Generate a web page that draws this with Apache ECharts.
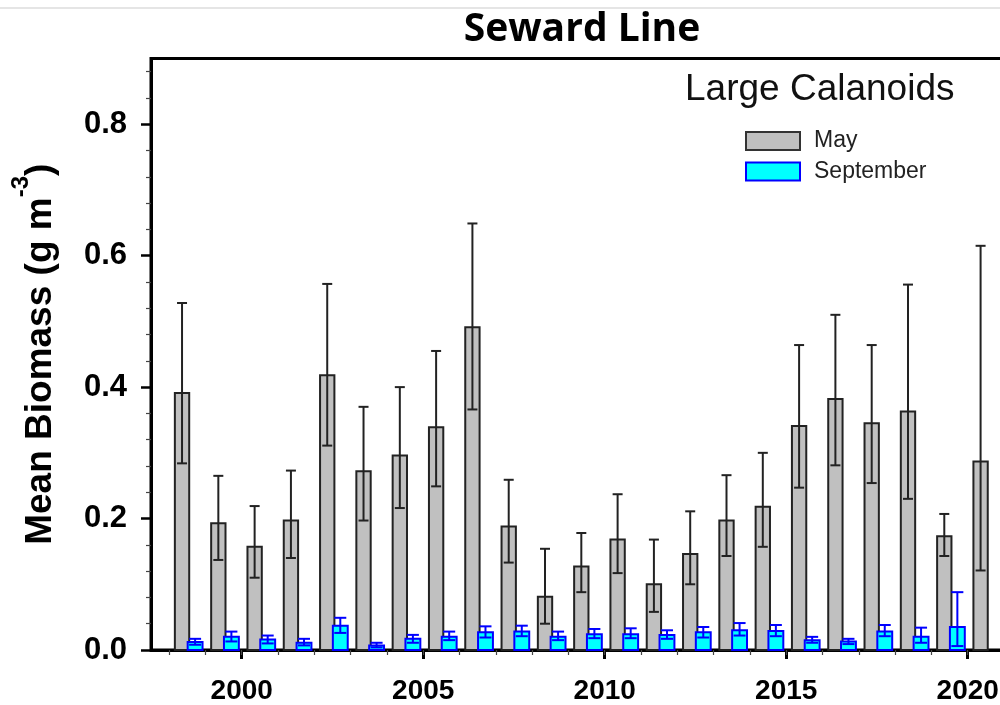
<!DOCTYPE html>
<html>
<head>
<meta charset="utf-8">
<script src="https://cdn.jsdelivr.net/npm/echarts@6/dist/echarts.min.js"></script>
<style>
html,body{margin:0;padding:0;overflow:hidden;background:#fff;}
#chart{width:1010px;height:705px;}
</style>
</head>
<body>
<div id="chart"></div>
<script>
// ---- data ----
const years = [1998,1999,2000,2001,2002,2003,2004,2005,2006,2007,2008,2009,2010,2011,2012,2013,2014,2015,2016,2017,2018,2019,2020];
// cruise timing within the year (fraction of a year)
const mayTiming = 0.355;
const sepTiming = 0.715;

const mayMean  = [0.391,0.193,0.157,0.197,0.418,0.272,0.296,0.339,0.491,0.188,0.081,0.127,0.168,0.100,0.146,0.197,0.218,0.341,0.382,0.345,0.363,0.173,0.287];
const mayUpper = [0.528,0.265,0.219,0.273,0.557,0.370,0.400,0.455,0.649,0.259,0.154,0.178,0.237,0.168,0.211,0.266,0.300,0.464,0.510,0.464,0.556,0.207,0.615];
const mayLower = [0.284,0.137,0.110,0.140,0.311,0.197,0.216,0.249,0.366,0.133,0.040,0.088,0.117,0.058,0.100,0.143,0.157,0.247,0.281,0.254,0.230,0.143,0.121];

const sepMean  = [0.012,0.020,0.016,0.011,0.037,0.007,0.017,0.020,0.027,0.028,0.020,0.024,0.024,0.023,0.027,0.030,0.029,0.015,0.013,0.028,0.020,0.035,null];
const sepUpper = [0.017,0.028,0.022,0.017,0.049,0.011,0.023,0.028,0.036,0.037,0.028,0.032,0.033,0.030,0.035,0.041,0.038,0.020,0.017,0.038,0.034,0.088,null];
const sepLower = [0.008,0.013,0.010,0.007,0.026,0.004,0.011,0.015,0.019,0.021,0.015,0.018,0.018,0.017,0.019,0.022,0.021,0.011,0.009,0.021,0.011,0.006,null];

const xMajorTicks = [2000,2005,2010,2015,2020];
const xMinorTicks = [1998,1999,2000,2001,2002,2003,2004,2005,2006,2007,2008,2009,2010,2011,2012,2013,2014,2015,2016,2017,2018,2019,2020,2021];
const yMajorTicks = [0,0.2,0.4,0.6,0.8];
const yMinorTicks = [0.04,0.08,0.12,0.16,0.24,0.28,0.32,0.36,0.44,0.48,0.52,0.56,0.64,0.68,0.72,0.76,0.84,0.88];

// ---- build series data ----
function build(mean, lower, upper, timing) {
  const out = [];
  for (let i = 0; i < years.length; i++) {
    if (mean[i] == null) continue;
    out.push([years[i] + timing, mean[i], lower[i], upper[i]]);
  }
  return out;
}
const mayData = build(mayMean, mayLower, mayUpper, mayTiming);
const sepData = build(sepMean, sepLower, sepUpper, sepTiming);

function makeRender(fill, stroke, errStroke, widthYr, capPx) {
  return function (params, api) {
    const t = api.value(0), v = api.value(1), lo = api.value(2), hi = api.value(3);
    const top = api.coord([t, v]);
    const base = api.coord([t, 0]);
    const pHi = api.coord([t, hi]);
    const pLo = api.coord([t, lo]);
    const w = api.size([widthYr, 0])[0];
    const cx = top[0];
    return {
      type: 'group',
      children: [
        {type: 'rect', shape: {x: cx - w / 2, y: top[1], width: w, height: base[1] - top[1]},
         style: {fill: fill, stroke: stroke, lineWidth: 2}},
        {type: 'line', shape: {x1: cx, y1: pHi[1], x2: cx, y2: pLo[1]}, style: {stroke: errStroke, lineWidth: 2}},
        {type: 'line', shape: {x1: cx - capPx / 2, y1: pHi[1], x2: cx + capPx / 2, y2: pHi[1]}, style: {stroke: errStroke, lineWidth: 2}},
        {type: 'line', shape: {x1: cx - capPx / 2, y1: pLo[1], x2: cx + capPx / 2, y2: pLo[1]}, style: {stroke: errStroke, lineWidth: 2}}
      ]
    };
  };
}

const chart = echarts.init(document.getElementById('chart'), null, {renderer: 'canvas'});
const option = {
  animation: false,
  backgroundColor: '#fff',
  grid: {left: 151, top: 58.5, width: 853, height: 596, show: true, borderColor: '#000', borderWidth: 3, backgroundColor: 'transparent'},
  graphic: [
    {type: 'line', shape: {x1: 0, y1: 8, x2: 1010, y2: 8}, style: {stroke: '#dcdcdc', lineWidth: 1.5}, silent: true},
    {type: 'text', x: 582, y: 30, style: {text: 'Seward Line', align: 'center', verticalAlign: 'middle',
      fontFamily: 'Open Sans', fontWeight: 'bold', fontSize: 39, fill: '#000'}},
    {type: 'text', x: 685, y: 90, style: {text: 'Large Calanoids', align: 'left', verticalAlign: 'middle',
      fontFamily: 'Arial, Liberation Sans', fontWeight: 'normal', fontSize: 37, fill: '#111'}}
  ],
  legend: {
    orient: 'vertical', left: 745, top: 129.5, padding: 0,
    itemWidth: 54, itemHeight: 18, itemGap: 7.5,
    textStyle: {fontFamily: 'Arial, Liberation Sans', fontSize: 23, lineHeight: 23, color: '#222', padding: [0, 0, 0, 9]},
    data: [
      {name: 'May', icon: 'rect', itemStyle: {color: '#c0c0c0', borderColor: '#333', borderWidth: 2}},
      {name: 'September', icon: 'rect', itemStyle: {color: '#00ffff', borderColor: '#0000ff', borderWidth: 2}}
    ]
  },
  xAxis: [
    {
      type: 'value', min: 1997.5, max: 2021, gridIndex: 0, position: 'bottom',
      splitLine: {show: false},
      axisLine: {show: true, lineStyle: {color: '#000', width: 3}},
      axisTick: {show: true, inside: false, length: 9, customValues: xMajorTicks, lineStyle: {color: '#000', width: 3}},
      axisLabel: {show: true, customValues: xMajorTicks, margin: 27, color: '#000',
        fontFamily: 'Arial, Liberation Sans', fontWeight: 'bold', fontSize: 28,
        formatter: function (v) { return String(Math.round(v)); }}
    },
    {
      type: 'value', min: 1997.5, max: 2021, gridIndex: 0, position: 'bottom', offset: 0,
      splitLine: {show: false},
      axisLine: {show: false},
      axisTick: {show: true, inside: false, length: 5, customValues: xMinorTicks, lineStyle: {color: '#444', width: 1.2}},
      axisLabel: {show: false}
    }
  ],
  yAxis: [
    {
      type: 'value', min: 0, max: 0.9, gridIndex: 0, position: 'left',
      splitLine: {show: false},
      axisLine: {show: true, lineStyle: {color: '#000', width: 3}},
      axisTick: {show: true, inside: false, length: 10, customValues: yMajorTicks, lineStyle: {color: '#000', width: 2.5}},
      axisLabel: {show: true, customValues: yMajorTicks, margin: 24, color: '#000',
        fontFamily: 'Arial, Liberation Sans', fontWeight: 'bold', fontSize: 31,
        formatter: function (v) { return v.toFixed(1); }},
      name: '{a|Mean Biomass (g m}{b|-3}{a|)}',
      nameLocation: 'middle', nameGap: 92, nameRotate: 90,
      nameTextStyle: {
        color: '#000',
        rich: {
          a: {fontFamily: 'Arial, Liberation Sans', fontWeight: 'bold', fontSize: 37, lineHeight: 50, verticalAlign: 'bottom', color: '#000'},
          b: {fontFamily: 'Arial, Liberation Sans', fontWeight: 'bold', fontSize: 24, lineHeight: 24, verticalAlign: 'top', color: '#000'}
        }
      }
    },
    {
      type: 'value', min: 0, max: 0.9, gridIndex: 0, position: 'left', offset: 0,
      splitLine: {show: false},
      axisLine: {show: false},
      axisTick: {show: true, inside: false, length: 5, customValues: yMinorTicks, lineStyle: {color: '#444', width: 1.2}},
      axisLabel: {show: false}
    }
  ],
  series: [
    {
      name: 'May', type: 'custom', xAxisIndex: 0, yAxisIndex: 0,
      itemStyle: {color: '#c0c0c0', borderColor: '#333'},
      renderItem: makeRender('#c0c0c0', '#222', '#222', 0.395, 10),
      encode: {x: 0, y: [1, 2, 3]},
      data: mayData
    },
    {
      name: 'September', type: 'custom', xAxisIndex: 0, yAxisIndex: 0,
      itemStyle: {color: '#00ffff', borderColor: '#0000ff'},
      renderItem: makeRender('#00ffff', '#0000ff', '#0000ff', 0.41, 12),
      encode: {x: 0, y: [1, 2, 3]},
      data: sepData
    }
  ]
};
chart.setOption(option);
</script>
</body>
</html>
